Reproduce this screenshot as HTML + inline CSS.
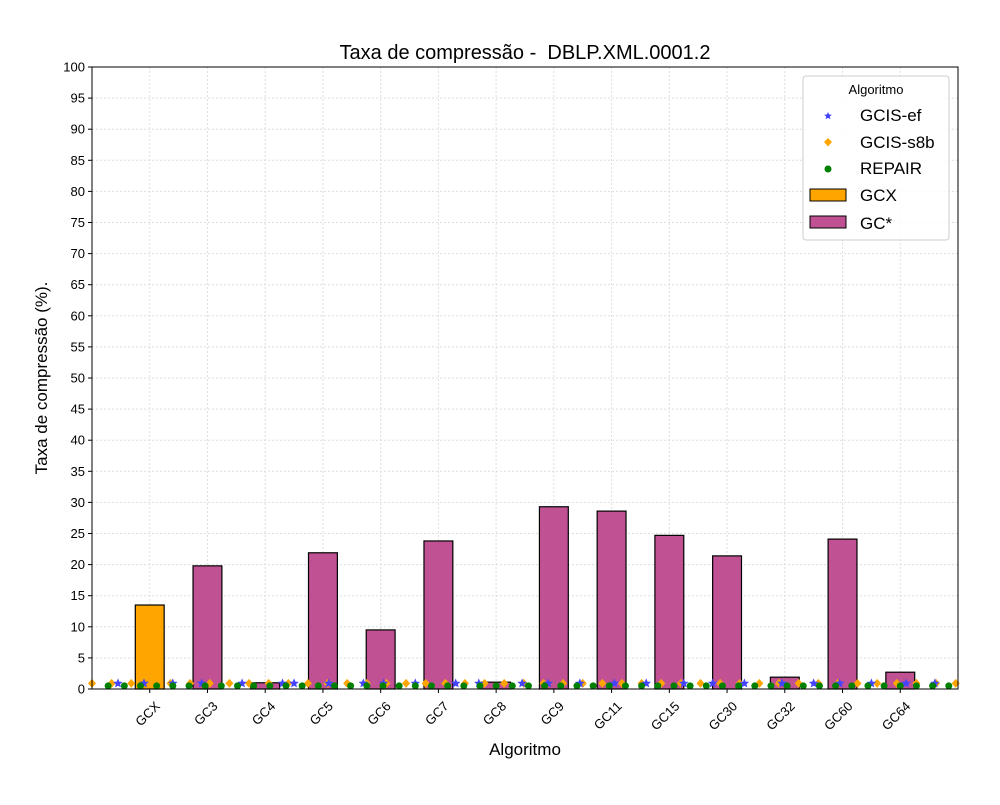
<!DOCTYPE html>
<html><head><meta charset="utf-8"><style>body{margin:0;background:#fff}svg{font-family:"Liberation Sans","DejaVu Sans",sans-serif}</style></head>
<body>
<svg id="c" width="1000" height="800"></svg>
<script>
const categories=["GCX","GC3","GC4","GC5","GC6","GC7","GC8","GC9","GC11","GC15","GC30","GC32","GC60","GC64"];
const barValues=[13.5,19.8,1.0,21.9,9.5,23.8,1.1,29.3,28.6,24.7,21.4,1.9,24.1,2.7];
const yTicks=[0,5,10,15,20,25,30,35,40,45,50,55,60,65,70,75,80,85,90,95,100];
const s8bX=[-1,-0.66,-0.32,0.02,0.36,0.7,1.04,1.38,1.72,2.06,2.4,2.74,3.08,3.42,3.76,4.1,4.44,4.78,5.12,5.46,5.8,6.14,6.48,6.82,7.16,7.5,7.84,8.18,8.52,8.86,9.2,9.54,9.88,10.22,10.56,10.9,11.24,11.58,11.92,12.26,12.6,12.94,13.28,13.62,13.96];
const s8bY=0.9;
const repairX=[-0.72,-0.44,-0.16,0.12,0.4,0.68,0.96,1.24,1.52,1.8,2.08,2.36,2.64,2.92,3.2,3.48,3.76,4.04,4.32,4.6,4.88,5.16,5.44,5.72,6,6.28,6.56,6.84,7.12,7.4,7.68,7.96,8.24,8.52,8.8,9.08,9.36,9.64,9.92,10.2,10.48,10.76,11.04,11.32,11.6,11.88,12.16,12.44,12.72,13,13.28,13.56,13.84];
const repairY=0.5;
const efX=[-0.55,-0.1,0.4,0.9,1.6,2.3,2.5,3.1,3.7,4.05,4.6,5.3,5.7,6.45,6.9,7.45,8.05,8.6,9.25,9.75,10.3,10.95,11.5,11.95,12.5,13.1,13.6];
const efY=0.9;

const NS="http://www.w3.org/2000/svg",svg=document.getElementById('c');
const L=92,R=958,T=67,B=689;
const xs=i=>L+(i+1)/15*(R-L), ys=v=>B-v/100*(B-T);
function mk(tag,a,p){const e=document.createElementNS(NS,tag);for(const k in a)e.setAttribute(k,a[k]);(p||svg).appendChild(e);return e;}
yTicks.forEach(t=>{const g=mk('line',{x1:L,x2:R,y1:ys(t),y2:ys(t),stroke:'#ddd','stroke-dasharray':'2,2'});
});
categories.forEach((c,i)=>{const g=mk('line',{x1:xs(i),x2:xs(i),y1:T,y2:B,stroke:'#ddd','stroke-dasharray':'2,2'});
});
const bw=0.5*(R-L)/15;
barValues.forEach((v,i)=>{const r=mk('rect',{x:xs(i)-bw/2,y:ys(v),width:bw,height:ys(0)-ys(v),fill:i==0?'#ffa500':'#c05294',stroke:'#000','stroke-width':1.2});
});
s8bX.forEach(x=>{const X=xs(x),Y=ys(s8bY);const m=mk('polygon',{points:`${X},${Y-4.5} ${X+4},${Y} ${X},${Y+4.5} ${X-4},${Y}`,fill:'#ffa500'});
});
function star(X,Y,r,fill){let p=[];for(let k=0;k<10;k++){const a=-Math.PI/2+k*Math.PI/5,rr=k%2?r*0.45:r;p.push((X+rr*Math.cos(a)).toFixed(1)+','+(Y+rr*Math.sin(a)).toFixed(1));}return mk('polygon',{points:p.join(' '),fill:fill});}
efX.forEach(x=>{const m=star(xs(x),ys(efY),5,'#4444ff');
});
repairX.forEach(x=>{const m=mk('circle',{cx:xs(x),cy:ys(repairY),r:3.5,fill:'#008000'});
});
const f=mk('rect',{x:L,y:T,width:R-L,height:B-T,fill:'none',stroke:'#000','stroke-width':1});

yTicks.forEach(t=>{mk('line',{x1:L-4,x2:L,y1:ys(t),y2:ys(t),stroke:'#000'});
const tx=mk('text',{x:L-7,y:ys(t)+4.5,'text-anchor':'end','font-size':13});tx.textContent=t;
});
categories.forEach((c,i)=>{mk('line',{x1:xs(i),x2:xs(i),y1:B,y2:B+4,stroke:'#000'});
const ax=xs(i)+11,ay=B+18;
const tx=mk('text',{x:ax,y:ay,'text-anchor':'end','font-size':13,transform:`rotate(-45 ${ax} ${ay})`});tx.textContent=c;
});
</script>
<div style="position:absolute;left:0;top:0;width:1000px;height:800px;pointer-events:none">
<svg width="1000" height="800" style="position:absolute;left:0;top:0">
<text x="525" y="59" text-anchor="middle" font-size="20" style="white-space:pre">Taxa de compressão -  DBLP.XML.0001.2</text>
<text x="525" y="755" text-anchor="middle" font-size="17">Algoritmo</text>
<text x="47" y="378" text-anchor="middle" font-size="17" transform="rotate(-90 47 378)">Taxa de compressão (%).</text>
<g>
<rect x="803" y="76" width="146" height="164" rx="3" fill="#fff" fill-opacity="0.85" stroke="#ccc"/>
<text x="876" y="94" text-anchor="middle" font-size="13">Algoritmo</text>
<polygon points="828,112 829.1,114.5 831.8,114.8 829.8,116.6 830.4,119.3 828,117.9 825.6,119.3 826.2,116.6 824.2,114.8 826.9,114.5" fill="#4444ff"/>
<text x="860" y="121" font-size="17">GCIS-ef</text>
<polygon points="828,138 832,142 828,146.5 824,142" fill="#ffa500"/>
<text x="860" y="148" font-size="17">GCIS-s8b</text>
<circle cx="828" cy="169" r="3.5" fill="#008000"/>
<text x="860" y="174" font-size="17">REPAIR</text>
<rect x="810" y="189" width="36" height="12" fill="#ffa500" stroke="#000"/>
<text x="860" y="201" font-size="17">GCX</text>
<rect x="810" y="216" width="36" height="12" fill="#c05294" stroke="#000"/>
<text x="860" y="229" font-size="17">GC*</text>
</g>
</svg></div>
</body></html>
